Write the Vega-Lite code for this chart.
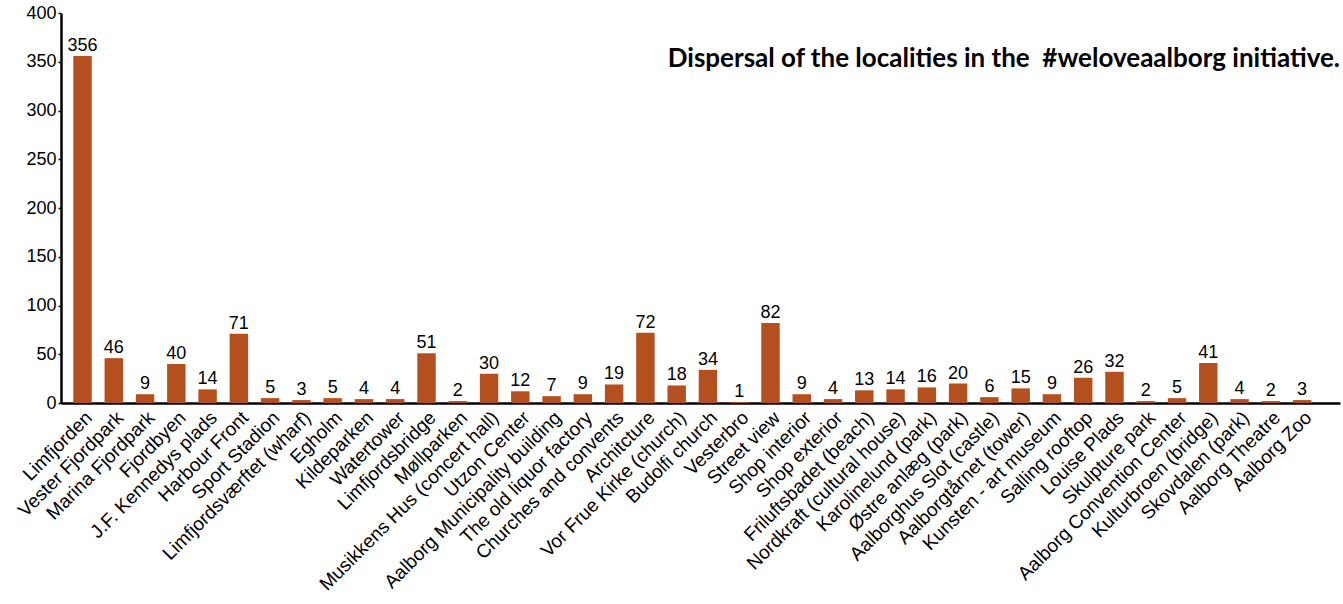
{
  "$schema": "https://vega.github.io/schema/vega-lite/v6.json",
  "autosize": {"type": "none"},
  "width": 1279,
  "height": 390,
  "padding": {"left": 61, "top": 13, "right": 3, "bottom": 201},
  "background": "white",
  "title": {
    "text": "Dispersal of the localities in the \u00a0#weloveaalborg initiative.",
    "anchor": "end",
    "frame": "group",
    "orient": "top",
    "offset": 0,
    "dy": 68,
    "font": "Lato",
    "fontSize": 26,
    "fontWeight": "bold",
    "color": "#000000"
  },
  "data": {
    "values": [
      {"place": "Limfjorden", "count": 356},
      {"place": "Vester Fjordpark", "count": 46},
      {"place": "Marina Fjordpark", "count": 9},
      {"place": "Fjordbyen", "count": 40},
      {"place": "J.F. Kennedys plads", "count": 14},
      {"place": "Harbour Front", "count": 71},
      {"place": "Sport Stadion", "count": 5},
      {"place": "Limfjordsværftet (wharf)", "count": 3},
      {"place": "Egholm", "count": 5},
      {"place": "Kildeparken", "count": 4},
      {"place": "Watertower", "count": 4},
      {"place": "Limfjordsbridge", "count": 51},
      {"place": "Møllparken", "count": 2},
      {"place": "Musikkens Hus (concert hall)", "count": 30},
      {"place": "Utzon Center", "count": 12},
      {"place": "Aalborg Municipality building", "count": 7},
      {"place": "The old liquor factory", "count": 9},
      {"place": "Churches and convents", "count": 19},
      {"place": "Architcture", "count": 72},
      {"place": "Vor Frue Kirke (church)", "count": 18},
      {"place": "Budolfi church", "count": 34},
      {"place": "Vesterbro", "count": 1},
      {"place": "Street view", "count": 82},
      {"place": "Shop interior", "count": 9},
      {"place": "Shop exterior", "count": 4},
      {"place": "Friluftsbadet (beach)", "count": 13},
      {"place": "Nordkraft (cultural house)", "count": 14},
      {"place": "Karolinelund (park)", "count": 16},
      {"place": "Østre anlæg (park)", "count": 20},
      {"place": "Aalborghus Slot (castle)", "count": 6},
      {"place": "Aalborgtårnet (tower)", "count": 15},
      {"place": "Kunsten - art museum", "count": 9},
      {"place": "Salling rooftop", "count": 26},
      {"place": "Louise Plads", "count": 32},
      {"place": "Skulpture park", "count": 2},
      {"place": "Aalborg Convention Center", "count": 5},
      {"place": "Kulturbroen (bridge)", "count": 41},
      {"place": "Skovdalen (park)", "count": 4},
      {"place": "Aalborg Theatre", "count": 2},
      {"place": "Aalborg Zoo", "count": 3}
    ]
  },
  "config": {
    "view": {"stroke": null},
    "axis": {"grid": false}
  },
  "encoding": {
    "x": {
      "field": "place",
      "type": "nominal",
      "sort": null,
      "scale": {"paddingInner": 0.41, "paddingOuter": 0.655, "align": 0.3},
      "axis": {
        "title": null,
        "labelAngle": -45,
        "labelFont": "Liberation Sans",
        "labelFontSize": 19,
        "labelColor": "#000000",
        "labelPadding": 5,
        "labelLimit": 0,
        "ticks": false,
        "domainColor": "#000000",
        "domainWidth": 2.5
      }
    },
    "y": {
      "field": "count",
      "type": "quantitative",
      "scale": {"domain": [0, 400], "nice": false},
      "axis": {
        "title": null,
        "values": [0, 50, 100, 150, 200, 250, 300, 350, 400],
        "labelFont": "Liberation Sans",
        "labelFontSize": 18,
        "labelColor": "#000000",
        "labelPadding": 2,
        "tickColor": "#000000",
        "tickWidth": 1.5,
        "tickSize": 3,
        "domainColor": "#000000",
        "domainWidth": 2.5
      }
    }
  },
  "layer": [
    {"mark": {"type": "bar", "color": "#B4501F"}},
    {
      "mark": {
        "type": "text",
        "baseline": "alphabetic",
        "dy": -5,
        "font": "Liberation Sans",
        "fontSize": 18,
        "color": "#000000"
      },
      "encoding": {"text": {"field": "count", "type": "quantitative"}}
    }
  ]
}
